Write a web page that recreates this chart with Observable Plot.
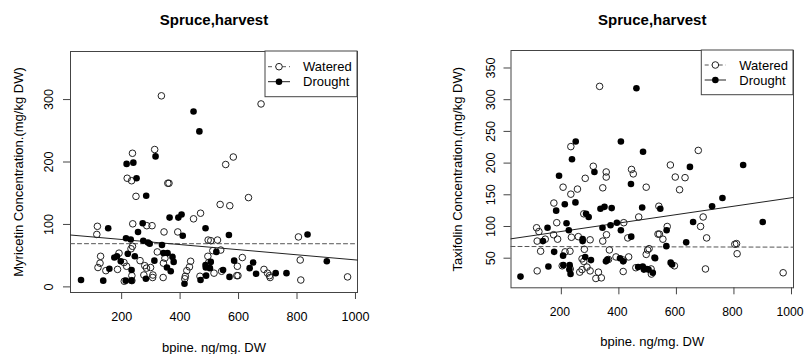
<!DOCTYPE html>
<html><head><meta charset="utf-8">
<script src="https://cdn.jsdelivr.net/npm/d3@7"></script>
<script src="https://cdn.jsdelivr.net/npm/@observablehq/plot@0.6"></script>
<style>
body{margin:0;background:#fff;}
#wrap{display:flex;width:804px;height:354px;overflow:hidden;}
svg{font-family:"Liberation Sans",Arial,sans-serif;}
</style></head><body><div id="wrap"></div>
<script>
// Shared
const title = "Spruce,harvest";
const xTitle = "bpine. ng/mg. DW";
const xDomain = [25, 1007];
const xTicks = [200, 400, 600, 800, 1000];
const legendLabels = ["Watered", "Drought"];

// Left panel: Myricetin
const myrYLabel = "Myricetin Concentration.(mg/kg DW)";
const myrYDomain = [-9, 377];
const myrYTicks = [0, 100, 200, 300];
const myrWatered = [[336,306],[677,293],[313,220],[237,214],[219,174],[234,170],[358,166],[362,166],[249,145],[556,196],[582,208],[634,143],[537,132],[570,130],[470,118],[446,109],[238,101],[117,97],[115,84],[286,98],[304,98],[345,88],[392,88],[496,75],[237,65],[232,61],[128,49],[119,31],[126,38],[146,26],[186,28],[191,54],[208,39],[217,33],[235,18],[209,9],[235,10],[263,42],[279,34],[285,30],[299,31],[276,19],[307,19],[306,15],[322,56],[343,38],[348,46],[342,15],[436,41],[432,32],[423,26],[418,17],[416,13],[468,17],[498,39],[495,49],[512,58],[516,22],[528,75],[505,74],[539,59],[542,25],[613,47],[596,33],[594,18],[598,18],[687,28],[699,22],[706,18],[708,15],[805,80],[811,43],[813,11],[973,16]];
const myrDrought = [[446,281],[466,249],[316,209],[217,197],[240,199],[251,174],[284,146],[364,111],[394,111],[405,116],[487,94],[154,94],[272,102],[256,88],[409,82],[215,78],[231,76],[274,74],[290,71],[296,69],[338,67],[567,83],[836,84],[61,11],[137,10],[158,29],[175,47],[184,49],[197,41],[221,53],[234,27],[214,10],[234,10],[245,49],[283,13],[312,42],[343,54],[357,54],[374,48],[378,40],[368,25],[355,31],[415,5],[470,11],[487,35],[488,31],[502,30],[489,18],[524,56],[505,40],[547,27],[585,42],[569,16],[638,30],[650,39],[660,21],[727,22],[764,22],[902,41]];
const myrWateredFit = [69.2, -0.0001];   // intercept, slope
const myrDroughtFit = [84.1, -0.0409];

// Right panel: Taxifolin
const taxYLabel = "Taxifolin Concentration.(mg/kg DW)";
const taxYDomain = [3.3, 377.6];
const taxYTicks = [50, 100, 150, 200, 250, 300, 350];
const taxWatered = [[333,321],[233,226],[311,195],[356,186],[356,178],[283,176],[444,190],[450,183],[495,162],[344,161],[206,162],[256,159],[233,151],[174,137],[676,220],[579,197],[596,178],[630,177],[611,158],[539,132],[469,115],[568,100],[693,115],[684,100],[705,82],[536,88],[541,88],[553,80],[505,65],[495,56],[513,25],[593,38],[701,33],[803,72],[809,73],[811,57],[971,27],[278,120],[184,106],[114,98],[122,92],[173,87],[187,80],[116,77],[144,80],[235,83],[259,84],[300,79],[357,87],[417,106],[431,82],[344,77],[128,61],[280,64],[367,63],[213,60],[230,61],[272,49],[278,45],[203,38],[231,33],[116,30],[264,28],[272,32],[289,36],[329,28],[320,18],[339,19],[364,48],[390,52],[416,47],[415,29],[434,52],[459,35],[512,33],[500,63],[300,30]];
const taxDrought = [[58,21],[155,37],[152,98],[136,77],[175,60],[182,125],[192,180],[212,135],[218,105],[226,94],[206,54],[207,39],[229,39],[228,32],[232,25],[237,206],[250,234],[249,138],[274,80],[274,77],[283,52],[286,120],[295,115],[303,47],[315,186],[336,128],[343,98],[350,131],[355,45],[360,48],[371,102],[375,129],[393,106],[404,50],[407,94],[407,234],[415,45],[442,167],[443,84],[461,318],[467,36],[481,130],[484,218],[483,37],[487,32],[497,33],[503,32],[518,27],[524,51],[526,50],[544,128],[566,94],[565,69],[580,43],[585,40],[634,75],[647,194],[658,107],[724,132],[760,145],[832,197],[900,107]];
const taxWateredFit = [68.5, -0.0011];
const taxDroughtFit = [78.9, 0.0664];

const FONT = '"Liberation Sans", Arial, sans-serif';

function panel(cfg) {
  const toObj = arr => arr.map(([x, y]) => ({x, y}));
  const fitLine = c => xDomain.map(x => ({x, y: c[0] + c[1] * x}));
  const [ml, mr, mt, mb] = cfg.margin;
  const T = {textAnchor: "middle", lineAnchor: "middle", fill: "#000"};
  const plot = Plot.plot({
    width: 402, height: 354,
    marginLeft: ml, marginRight: mr, marginTop: mt, marginBottom: mb,
    style: {fontFamily: FONT, fontSize: "12.5px", color: "#000", background: "#fff", overflow: "visible"},
    x: {domain: xDomain},
    y: {domain: cfg.yDomain},
    marks: [
      Plot.axisX({ticks: xTicks, tickSize: 7, tickFormat: () => "", label: null, stroke: "#444"}),
      Plot.axisY({ticks: cfg.yTicks, tickSize: 7, tickFormat: () => "", label: null, stroke: "#444"}),
      Plot.text(xTicks, {...T, x: d => d, text: d => String(d), frameAnchor: "bottom", dy: cfg.xTickDy, dx: cfg.xTickDx, fontSize: cfg.xTickSize}),
      Plot.text(cfg.yTicks, {...T, y: d => d, text: d => String(d), frameAnchor: "left", dx: cfg.yTickDx, rotate: -90, fontSize: 12.6}),
      Plot.frame({stroke: "#444"}),
      Plot.line(fitLine(cfg.wFit), {x: "x", y: "y", stroke: "#555", strokeDasharray: "4,3", strokeWidth: 1}),
      Plot.line(fitLine(cfg.dFit), {x: "x", y: "y", stroke: "#222", strokeWidth: 1}),
      Plot.dot(toObj(cfg.W), {x: "x", y: "y", r: 3.3, stroke: "#222", fill: "none", strokeWidth: 1}),
      Plot.dot(toObj(cfg.D), {x: "x", y: "y", r: 3.3, fill: "#000", stroke: "none"}),
      Plot.text([title], {...T, text: d => d, frameAnchor: "top", dy: cfg.titleDy, fontWeight: "bold", fontSize: 15}),
      Plot.text([cfg.yLabel], {...T, text: d => d, frameAnchor: "left", dx: cfg.yTitleDx, rotate: -90, fontSize: 13}),
      Plot.text([xTitle], {...T, text: d => d, frameAnchor: "bottom", dy: cfg.xTitleDy, fontSize: 13})
    ]
  });
  // Legend box (R-style)
  const L = cfg.legend;
  const g = d3.select(plot).append("g").attr("font-family", FONT).attr("font-size", 13).attr("text-anchor", "start");
  g.append("rect").attr("x", L.x0).attr("y", L.y0).attr("width", L.x1 - L.x0).attr("height", L.y1 - L.y0)
    .attr("fill", "#fff").attr("stroke", "#444");
  const rows = [
    {label: legendLabels[0], y: L.r1, dash: "4,3", fill: "none", stroke: "#222"},
    {label: legendLabels[1], y: L.r2, dash: null, fill: "#000", stroke: "none"}
  ];
  for (const r of rows) {
    g.append("line").attr("x1", L.lx0).attr("x2", L.lx1).attr("y1", r.y).attr("y2", r.y)
      .attr("stroke", r.dash ? "#555" : "#222").attr("stroke-dasharray", r.dash);
    g.append("circle").attr("cx", (L.lx0 + L.lx1) / 2).attr("cy", r.y).attr("r", 3.3)
      .attr("fill", r.fill === "none" ? "#fff" : r.fill).attr("stroke", r.stroke).attr("stroke-width", 1);
    g.append("text").attr("x", L.tx).attr("y", r.y).attr("dy", "0.35em").attr("text-anchor", "start")
      .attr("fill", "#000").text(r.label);
  }
  return plot;
}

const wrap = document.getElementById("wrap");
wrap.append(panel({
  margin: [70, 45, 51, 62],
  yDomain: myrYDomain, yTicks: myrYTicks, yLabel: myrYLabel,
  W: myrWatered, D: myrDrought, wFit: myrWateredFit, dFit: myrDroughtFit,
  xTickDy: 24, xTickDx: 0, xTickSize: 12.6, yTickDx: -22, titleDy: -31, xTitleDy: 55, yTitleDx: -52,
  legend: {x0: 265, y0: 51, x1: 357, y1: 96.7, lx0: 268, lx1: 290, tx: 303, r1: 66.7, r2: 81.7}
}));
wrap.append(panel({
  margin: [108.5, 11, 50, 66.7],
  yDomain: taxYDomain, yTicks: taxYTicks, yLabel: taxYLabel,
  W: taxWatered, D: taxDrought, wFit: taxWateredFit, dFit: taxDroughtFit,
  xTickDy: 24, xTickDx: -1.5, xTickSize: 12.2, yTickDx: -20.5, titleDy: -30.5, xTitleDy: 54.5, yTitleDx: -52.7,
  legend: {x0: 299.3, y0: 50, x1: 391, y1: 94.7, lx0: 302.7, lx1: 324, tx: 337.3, r1: 65, r2: 80}
}));
</script></body></html>
